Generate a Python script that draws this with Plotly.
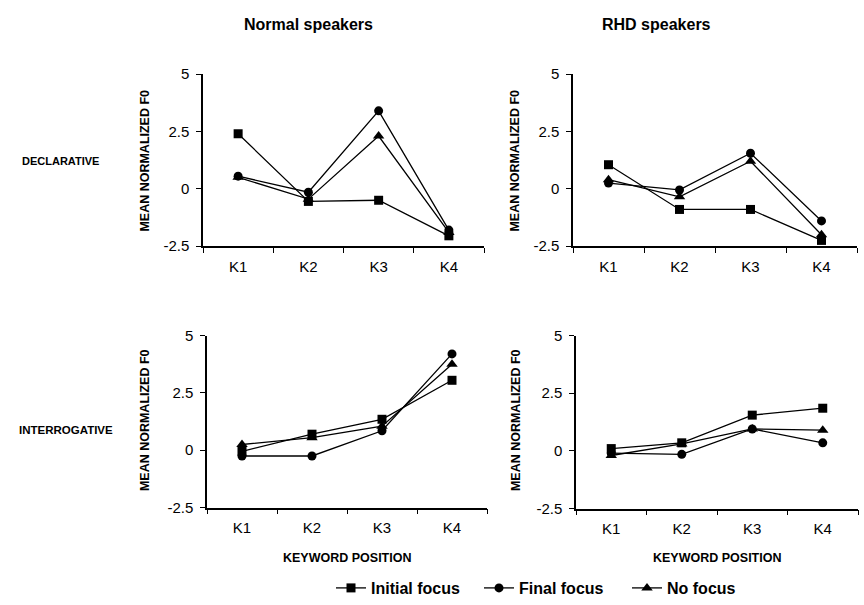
import plotly.graph_objects as go

positions = ["K1", "K2", "K3", "K4"]
series_names = ["Initial focus", "Final focus", "No focus"]
symbols = ["square", "circle", "triangle-up"]

# Normal speakers, declarative
normal_decl_initial = [2.4, -0.55, -0.5, -2.05]
normal_decl_final = [0.55, -0.15, 3.4, -1.8]
normal_decl_none = [0.5, -0.45, 2.3, -1.9]

# RHD speakers, declarative
rhd_decl_initial = [1.05, -0.9, -0.9, -2.25]
rhd_decl_final = [0.25, -0.05, 1.55, -1.4]
rhd_decl_none = [0.4, -0.35, 1.2, -2.0]

# Normal speakers, interrogative
normal_int_initial = [-0.05, 0.7, 1.35, 3.05]
normal_int_final = [-0.25, -0.25, 0.85, 4.2]
normal_int_none = [0.25, 0.55, 1.05, 3.75]

# RHD speakers, interrogative
rhd_int_initial = [0.1, 0.35, 1.55, 1.85]
rhd_int_final = [-0.1, -0.15, 0.95, 0.35]
rhd_int_none = [-0.2, 0.3, 0.95, 0.9]

y_tickvals = [-2.5, 0, 2.5, 5]
y_ticktext = ["-2.5", "0", "2.5", "5"]

panels = [
    ("x", "y", [normal_decl_initial, normal_decl_final, normal_decl_none]),
    ("x2", "y2", [rhd_decl_initial, rhd_decl_final, rhd_decl_none]),
    ("x3", "y3", [normal_int_initial, normal_int_final, normal_int_none]),
    ("x4", "y4", [rhd_int_initial, rhd_int_final, rhd_int_none]),
]

FONT = "Liberation Sans, Arial, sans-serif"
fig = go.Figure()
for pi, (xa, ya, series) in enumerate(panels):
    for si, vals in enumerate(series):
        fig.add_trace(go.Scatter(
            x=positions, y=vals, xaxis=xa, yaxis=ya,
            mode="lines+markers", name=series_names[si],
            showlegend=(pi == 0),
            line=dict(color="black", width=1.3),
            marker=dict(symbol=symbols[si], size=9 if si != 2 else 10, color="black"),
            cliponaxis=False,
        ))

W, H = 864, 605
def px(x): return x / W
def py(y): return 1 - y / H

domains = {
    "xaxis": [px(203), px(484)], "yaxis": [py(244), py(67)],
    "xaxis2": [px(573), px(857)], "yaxis2": [py(244), py(67)],
    "xaxis3": [px(207), px(487)], "yaxis3": [py(513), py(336)],
    "xaxis4": [px(576), px(858)], "yaxis4": [py(514), py(336)],
}

layout = dict(
    width=W, height=H, margin=dict(l=0, r=0, t=0, b=0),
    plot_bgcolor="white", paper_bgcolor="white",
    font=dict(family=FONT, color="black", size=15),
    legend=dict(orientation="h", x=px(331), y=py(596), xanchor="left", yanchor="middle",
                font=dict(size=16, family=FONT, weight="bold"), entrywidth=103,
                itemwidth=30, bgcolor="rgba(0,0,0,0)"),
)
for i in range(1, 5):
    sx = "" if i == 1 else str(i)
    layout["xaxis" + sx] = dict(
        domain=domains["xaxis" + sx], anchor="y" + sx, type="category",
        categoryorder="array", categoryarray=positions, range=[-0.5, 3.5],
        tickson="boundaries", ticks="outside", ticklen=5, tickcolor="black", tickwidth=1.3,
        ticklabelstandoff=6,
        showline=True, linecolor="black", linewidth=1.5, showgrid=False, zeroline=False,
        tickfont=dict(size=15), fixedrange=True,
    )
    layout["yaxis" + sx] = dict(
        domain=domains["yaxis" + sx], anchor="x" + sx, range=[-2.5, 5],
        tickvals=y_tickvals, ticktext=y_ticktext, ticks="outside", ticklen=5,
        ticklabelstandoff=4,
        tickcolor="black", tickwidth=1.3, showline=True, linecolor="black", linewidth=1.5,
        showgrid=False, zeroline=False, tickfont=dict(size=15),
    )
fig.update_layout(**layout)

ann = []
def add(text, x, y, size=11, angle=0):
    ann.append(dict(text=text, x=px(x), y=py(y), xref="paper", yref="paper",
                    showarrow=False, textangle=angle, xanchor="center", yanchor="middle",
                    font=dict(size=size, family=FONT, weight="bold")))
add("Normal speakers", 308, 16, 16)
add("RHD speakers", 656, 16, 16)
add("DECLARATIVE", 61, 156, 11)
add("INTERROGATIVE", 66, 433, 11.5)
for x, y in [(145, 156), (515, 156), (145, 423), (516, 423)]:
    add("MEAN NORMALIZED F0", x, y, 12.5, -90)
add("KEYWORD POSITION", 347, 565, 12.5)
add("KEYWORD POSITION", 717, 565, 12.5)
fig.update_layout(annotations=ann)

fig.write_html("out.html")
